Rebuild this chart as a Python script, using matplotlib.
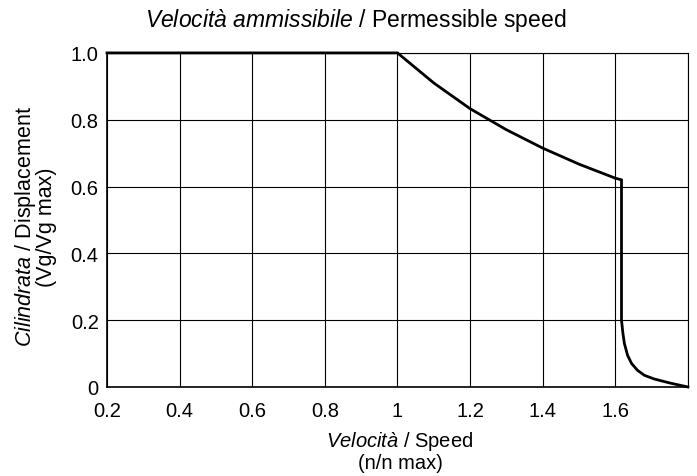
import matplotlib
matplotlib.use("Agg")
import matplotlib.pyplot as plt

plt.rcParams['font.family'] = ['Liberation Sans', 'DejaVu Sans']
plt.rcParams['mathtext.fontset'] = 'custom'
plt.rcParams['mathtext.rm'] = 'Liberation Sans'
plt.rcParams['mathtext.it'] = 'Liberation Sans:italic'

# Data
speed = [0.2, 1.0, 1.1, 1.2, 1.3, 1.4, 1.5, 1.6, 1.617, 1.617, 1.619, 1.621, 1.625,
         1.634, 1.645, 1.661, 1.68, 1.707, 1.75, 1.8]
displacement = [1.0, 1.0, 0.91, 0.833, 0.77, 0.715, 0.667, 0.625, 0.62, 0.2, 0.18, 0.16, 0.13,
                0.094, 0.07, 0.05, 0.035, 0.024, 0.012, 0.0]

x_ticks = [0.2, 0.4, 0.6, 0.8, 1.0, 1.2, 1.4, 1.6, 1.8]
x_tick_labels = ["0.2", "0.4", "0.6", "0.8", "1", "1.2", "1.4", "1.6", ""]
y_ticks = [0, 0.2, 0.4, 0.6, 0.8, 1.0]
y_tick_labels = ["0", "0.2", "0.4", "0.6", "0.8", "1.0"]

fig = plt.figure(figsize=(6.97, 4.77), dpi=100)
ax = fig.add_axes([0.1535, 0.1866, 0.8335, 0.7004])

ax.plot(speed, displacement, color='black', lw=2.0, solid_joinstyle='miter', zorder=3, clip_on=False)

ax.set_xlim(0.2, 1.8)
ax.set_ylim(0, 1.0)
ax.set_xticks(x_ticks)
ax.set_xticklabels(x_tick_labels)
ax.set_yticks(y_ticks)
ax.set_yticklabels(y_tick_labels)
ax.tick_params(length=0, labelsize=14.5, colors='black')
ax.tick_params(axis='x', pad=10)
ax.tick_params(axis='y', pad=6)
ax.grid(True, color='black', lw=0.8)
for s in ax.spines.values():
    s.set_color('black')
    s.set_linewidth(0.8)
ax.spines['left'].set_linewidth(1.2)
ax.spines['bottom'].set_linewidth(1.2)

fig.text(0.511, 0.958, r"$\mathit{Velocità\ ammissibile}$ / Permessible speed",
         ha='center', va='center', fontsize=16.5)
fig.text(0.574, 0.0734, r"$\mathit{Velocità}$ / Speed",
         ha='center', va='center', fontsize=14.5)
fig.text(0.574, 0.0273, "(n/n max)",
         ha='center', va='center', fontsize=14.5)
fig.text(0.0366, 0.524, r"$\mathit{Cilindrata}$ / Displacement",
         ha='center', va='center', fontsize=15.5, rotation=90)
fig.text(0.0667, 0.524, "(Vg/Vg max)",
         ha='center', va='center', fontsize=15.5, rotation=90)

fig.savefig("out.png", dpi=100)
